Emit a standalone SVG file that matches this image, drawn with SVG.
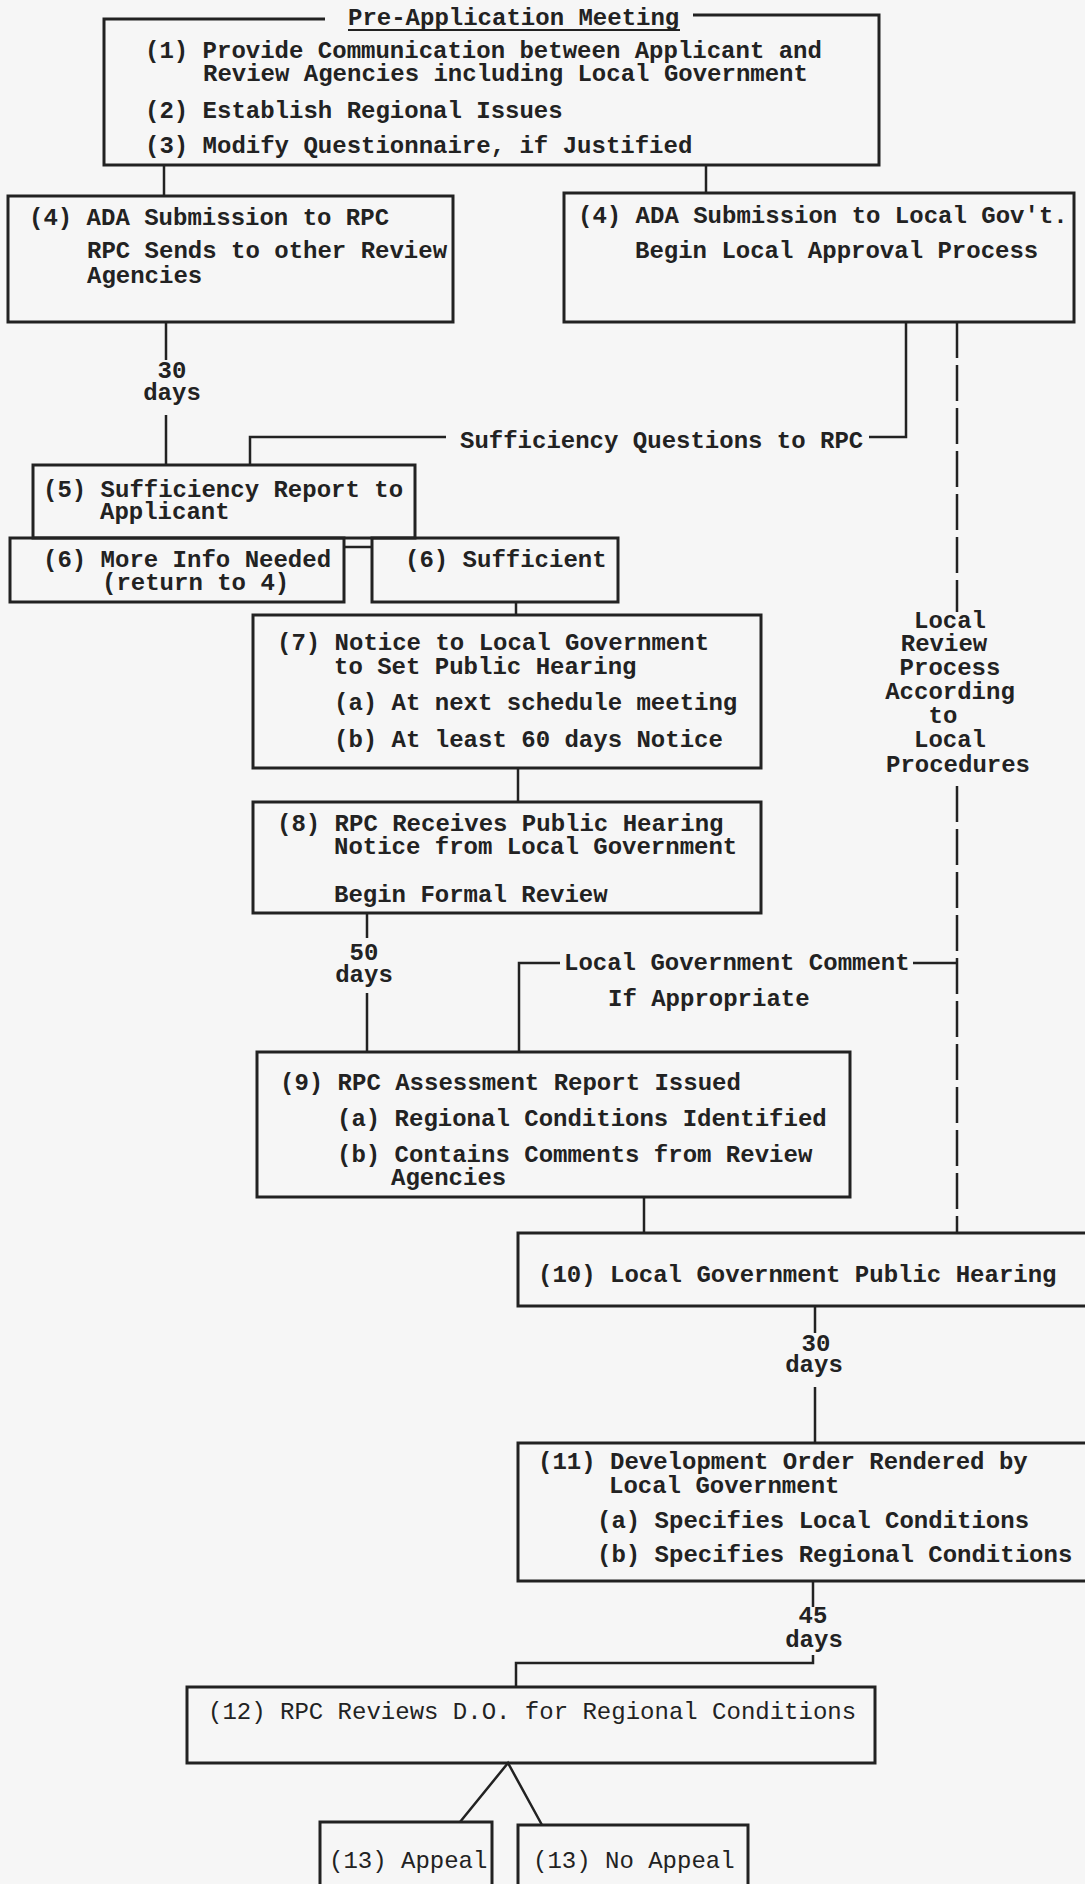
<svg xmlns="http://www.w3.org/2000/svg" width="1085" height="1884" viewBox="0 0 1085 1884">
<style>
.t{font-family:"Liberation Mono","Courier New",monospace;font-size:24px;font-weight:bold;fill:#222}
.m{text-anchor:middle}
.b{fill:none;stroke:#222;stroke-width:3}
.c{fill:none;stroke:#222;stroke-width:2.5}
.d{stroke-dasharray:36 7}
.lt{font-weight:normal}
</style>
<rect x="0" y="0" width="1085" height="1884" fill="#f6f6f6"/>
<g id="connectors">
<path class="c" d="M164 165 V196"/>
<path class="c" d="M706 165 V193"/>
<path class="c" d="M166 322 V360 M166 415 V465"/>
<path class="c" d="M250 465 V437 H446"/>
<path class="c" d="M869 437 H906 V322"/>
<path class="c d" d="M957 322 V612"/>
<path class="c d" d="M957 786 V1233"/>
<path class="c" d="M344 547 H372"/>
<path class="c" d="M516 602 V615"/>
<path class="c" d="M518 768 V802"/>
<path class="c" d="M367 913 V938 M367 993 V1052"/>
<path class="c" d="M519 1052 V963 H560"/>
<path class="c" d="M913 963 H957"/>
<path class="c" d="M644 1197 V1233"/>
<path class="c" d="M815 1306 V1333 M815 1387 V1443"/>
<path class="c" d="M813 1582 V1607 M813 1655 V1663 H516 V1687"/>
<path class="c" d="M460 1822 L508 1763 L542 1825"/>
<text class="t m" x="172" y="378">30</text>
<text class="t m" x="172" y="400">days</text>
<text class="t" x="460" y="448">Sufficiency Questions to RPC</text>
<text class="t m" x="364" y="960">50</text>
<text class="t m" x="364" y="982">days</text>
<text class="t" x="564" y="970">Local Government Comment</text>
<text class="t" x="608" y="1006">If Appropriate</text>
<text class="t m" x="816" y="1351">30</text>
<text class="t m" x="814" y="1372">days</text>
<text class="t m" x="813" y="1623">45</text>
<text class="t m" x="814" y="1647">days</text>
<text class="t m" x="950" y="628">Local</text>
<text class="t m" x="944" y="651">Review</text>
<text class="t m" x="950" y="675">Process</text>
<text class="t m" x="950" y="699">According</text>
<text class="t m" x="943" y="723">to</text>
<text class="t m" x="950" y="747">Local</text>
<text class="t m" x="958" y="772">Procedures</text>
</g>
<g id="n1">
<path class="b" d="M325 19 H104 V165 H879 V15 H693"/>
<text class="t" x="348" y="25">Pre-Application Meeting</text>
<line x1="348" y1="30" x2="680" y2="30" stroke="#222" stroke-width="2"/>
<text class="t" x="145" y="58">(1) Provide Communication between Applicant and</text>
<text class="t" x="203" y="81">Review Agencies including Local Government</text>
<text class="t" x="145" y="118">(2) Establish Regional Issues</text>
<text class="t" x="145" y="153">(3) Modify Questionnaire, if Justified</text>
</g>
<g id="n4a">
<rect class="b" x="8" y="196" width="445" height="126"/>
<text class="t" x="29" y="225">(4) ADA Submission to RPC</text>
<text class="t" x="87" y="258">RPC Sends to other Review</text>
<text class="t" x="87" y="283">Agencies</text>
</g>
<g id="n4b">
<rect class="b" x="564" y="193" width="510" height="129"/>
<text class="t" x="578" y="223">(4) ADA Submission to Local Gov't.</text>
<text class="t" x="635" y="258">Begin Local Approval Process</text>
</g>
<g id="n5">
<rect class="b" x="33" y="465" width="382" height="73"/>
<text class="t" x="43" y="497">(5) Sufficiency Report to</text>
<text class="t" x="100" y="519">Applicant</text>
</g>
<g id="n6a">
<rect class="b" x="10" y="538" width="334" height="64"/>
<text class="t" x="43" y="567">(6) More Info Needed</text>
<text class="t" x="102" y="590">(return to 4)</text>
</g>
<g id="n6b">
<rect class="b" x="372" y="538" width="246" height="64"/>
<text class="t" x="405" y="567">(6) Sufficient</text>
</g>
<g id="n7">
<rect class="b" x="253" y="615" width="508" height="153"/>
<text class="t" x="277" y="650">(7) Notice to Local Government</text>
<text class="t" x="334" y="674">to Set Public Hearing</text>
<text class="t" x="334" y="710">(a) At next schedule meeting</text>
<text class="t" x="334" y="747">(b) At least 60 days Notice</text>
</g>
<g id="n8">
<rect class="b" x="253" y="802" width="508" height="111"/>
<text class="t" x="277" y="831">(8) RPC Receives Public Hearing</text>
<text class="t" x="334" y="854">Notice from Local Government</text>
<text class="t" x="334" y="902">Begin Formal Review</text>
</g>
<g id="n9">
<rect class="b" x="257" y="1052" width="593" height="145"/>
<text class="t" x="280" y="1090">(9) RPC Assessment Report Issued</text>
<text class="t" x="337" y="1126">(a) Regional Conditions Identified</text>
<text class="t" x="337" y="1162">(b) Contains Comments from Review</text>
<text class="t" x="391" y="1185">Agencies</text>
</g>
<g id="n10">
<path class="b" d="M1090 1233 H518 V1306 H1090"/>
<text class="t" x="538" y="1282">(10) Local Government Public Hearing</text>
</g>
<g id="n11">
<path class="b" d="M1090 1443 H518 V1581 H1090"/>
<text class="t" x="538" y="1469">(11) Development Order Rendered by</text>
<text class="t" x="609" y="1493">Local Government</text>
<text class="t" x="597" y="1528">(a) Specifies Local Conditions</text>
<text class="t" x="597" y="1562">(b) Specifies Regional Conditions</text>
</g>
<g id="n12">
<rect class="b" x="187" y="1687" width="688" height="76"/>
<text class="t lt" x="208" y="1719">(12) RPC Reviews D.O. for Regional Conditions</text>
</g>
<g id="n13a">
<path class="b" d="M320 1890 V1822 H492 V1890"/>
<text class="t lt" x="329" y="1868">(13) Appeal</text>
</g>
<g id="n13b">
<path class="b" d="M518 1890 V1825 H748 V1890"/>
<text class="t lt" x="533" y="1868">(13) No Appeal</text>
</g>
</svg>
